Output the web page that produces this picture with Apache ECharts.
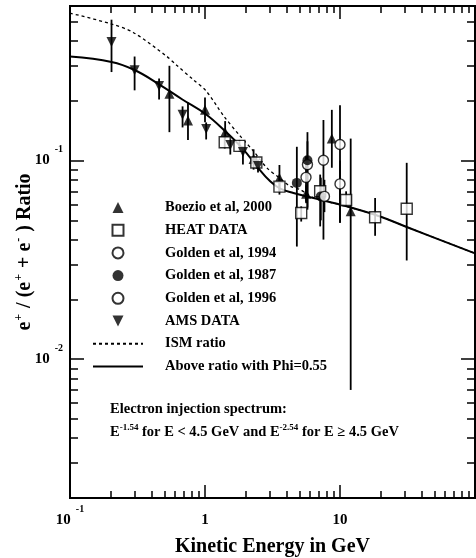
<!DOCTYPE html>
<html>
<head>
<meta charset="utf-8">
<script src="https://cdn.jsdelivr.net/npm/echarts@6/dist/echarts.min.js"></script>
<style>
    html, body { margin: 0; padding: 0; background: #fff; }
    #chart { width: 476px; height: 558px; }
</style>
</head>
<body>
<div id="chart"></div>
<script>
// 数据 (能量 GeV, 正电子比例, 误差下限, 误差上限)
const boezioE  = [0.545, 0.748, 1.0, 1.41, 2.29, 3.56, 5.61, 8.7, 12.0];
const boezioR  = [0.217, 0.159, 0.180, 0.139, 0.1018, 0.0818, 0.0681, 0.129, 0.0555];
const boezioLo = [0.139, 0.127, 0.156, 0.128, 0.090, 0.070, 0.061, 0.092, 0.0070];
const boezioHi = [0.300, 0.196, 0.208, 0.158, 0.114, 0.095, 0.075, 0.180, 0.129];

const heatE  = [1.40, 1.80, 2.40, 3.56, 5.16, 7.13, 11.1, 18.2, 31.2];
const heatR  = [0.1237, 0.1186, 0.0977, 0.0739, 0.0544, 0.070, 0.0633, 0.0518, 0.0572];
const heatLo = [0.115, 0.111, 0.091, 0.0674, 0.0493, 0.0466, 0.0588, 0.0418, 0.0314];
const heatHi = [0.133, 0.127, 0.105, 0.082, 0.0588, 0.085, 0.070, 0.0648, 0.0974];

const golden94E  = [5.74, 7.54, 10.0];
const golden94R  = [0.0954, 0.1003, 0.1205];
const golden94Lo = [0.058, 0.040, 0.0486];
const golden94Hi = [0.125, 0.160, 0.190];

const golden87E  = [4.79, 5.74, 7.21];
const golden87R  = [0.0772, 0.1003, 0.066];
const golden87Lo = [0.0369, 0.0566, 0.050];
const golden87Hi = [0.1173, 0.139, 0.082];

const golden96E  = [5.6, 7.67, 10.0];
const golden96R  = [0.0823, 0.066, 0.0763];
const golden96Lo = [0.062, 0.055, 0.0486];
const golden96Hi = [0.105, 0.080, 0.100];

const amsE  = [0.203, 0.301, 0.457, 0.682, 1.02, 1.54, 1.91, 2.47];
const amsR  = [0.395, 0.285, 0.237, 0.170, 0.144, 0.1198, 0.1104, 0.0938];
const amsLo = [0.279, 0.2257, 0.203, 0.1468, 0.1277, 0.1072, 0.0954, 0.087];
const amsHi = [0.512, 0.334, 0.259, 0.1874, 0.1556, 0.1277, 0.118, 0.1012];

// 理论曲线
const ismE = [0.1, 0.203, 0.294, 0.517, 0.613, 0.815, 1.02, 1.373, 1.824, 2.29, 2.874, 3.56, 4.28, 5.07, 6.36, 11.2, 19.8, 31.2, 100];
const ismR = [0.5526, 0.487, 0.4416, 0.336, 0.303, 0.256, 0.224, 0.168, 0.1327, 0.1114, 0.0919, 0.0818, 0.0742, 0.0714, 0.0650, 0.0588, 0.0523, 0.0463, 0.0341];
const phiE = [0.1, 0.203, 0.301, 0.457, 0.68, 1.02, 1.41, 1.93, 2.42, 3.04, 3.61, 4.52, 6.36, 11.2, 19.8, 31.2, 100];
const phiR = [0.334, 0.3137, 0.2857, 0.242, 0.203, 0.1707, 0.1406, 0.1136, 0.0936, 0.0786, 0.0722, 0.0687, 0.0648, 0.0588, 0.0523, 0.0463, 0.0341];

// 刻度
const xLabelValues = [0.1, 1, 10];
const xMajorTicks = [1, 10];
const xMinorTicks = [0.2, 0.3, 0.4, 0.5, 0.6, 0.7, 0.8, 0.9, 2, 3, 4, 5, 6, 7, 8, 9, 20, 30, 40, 50, 60, 70, 80, 90];
const yLabelValues = [0.01, 0.1];
const yMajorTicks = [0.01, 0.1];
const yMinorTicks = [0.003, 0.004, 0.005, 0.006, 0.007, 0.008, 0.009, 0.02, 0.03, 0.04, 0.05, 0.06, 0.07, 0.08, 0.09, 0.2, 0.3, 0.4, 0.5];

const serif = '"Liberation Serif", "DejaVu Serif", serif';
const chart = echarts.init(document.getElementById('chart'));

// 符号
const triUp = 'path://M0,10 L5,0 L10,10 Z';
const triDown = 'path://M0,0 L10,0 L5,10 Z';
const square = 'path://M0,0 L10,0 L10,10 L0,10 Z';

const richLabel = {
    b: { fontFamily: serif, fontWeight: 'bold', fontSize: 15, color: '#000', lineHeight: 32 },
    s: { fontFamily: serif, fontWeight: 'bold', fontSize: 10, color: '#000', lineHeight: 10, padding: [0, 0, 22, 5] }
};

function powLabel(v) {
    const e = Math.round(Math.log10(v));
    if (e === 0) return '{b|1}';
    if (e === 1) return '{b|10}';
    return '{b|10}{s|' + e + '}';
}

function pointsOf(xs, ys) {
    return xs.map((x, i) => [x, ys[i]]);
}

function barsOf(xs, lo, hi) {
    return xs.map((x, i) => [x, lo[i], hi[i]]);
}

// 误差棒
function renderErrorBar(params, api) {
    const x = api.value(0);
    const top = api.coord([x, api.value(2)]);
    const bottom = api.coord([x, api.value(1)]);
    return {
        type: 'line',
        shape: { x1: top[0], y1: top[1], x2: bottom[0], y2: bottom[1] },
        style: { stroke: '#000', lineWidth: 1.8 }
    };
}

function errorSeries(xs, lo, hi) {
    return {
        type: 'custom',
        renderItem: renderErrorBar,
        encode: { x: 0, y: [1, 2] },
        data: barsOf(xs, lo, hi),
        z: 1,
        silent: true
    };
}

function markerSeries(name, xs, ys, symbol, size, filled) {
    return {
        name: name,
        type: 'scatter',
        data: pointsOf(xs, ys),
        symbol: symbol,
        symbolSize: size,
        symbolKeepAspect: true,
        itemStyle: filled
            ? { color: '#000' }
            : { color: '#fff', borderColor: '#000', borderWidth: 1.4 },
        z: 3
    };
}

function xAxisDef(position, ticks, len, showLabel) {
    return {
        type: 'log',
        logBase: 10,
        min: 0.1,
        max: 100,
        position: position,
        gridIndex: 0,
        axisLine: { show: true, lineStyle: { color: '#000', width: 2 } },
        axisTick: { show: true, inside: true, length: len, customValues: ticks, lineStyle: { color: '#000', width: 1.5 } },
        axisLabel: showLabel
            ? { show: true, customValues: xLabelValues, formatter: powLabel, rich: richLabel, margin: 6 }
            : { show: false },
        splitLine: { show: false },
        minorTick: { show: false },
        name: showLabel ? 'Kinetic Energy in GeV' : '',
        nameLocation: 'middle',
        nameGap: 39,
        nameMoveOverlap: false,
        nameTextStyle: { fontFamily: serif, fontWeight: 'bold', fontSize: 20, color: '#000' }
    };
}

function yAxisDef(position, ticks, len, showLabel) {
    return {
        type: 'log',
        logBase: 10,
        min: 0.002,
        max: 0.6,
        position: position,
        gridIndex: 0,
        axisLine: { show: true, lineStyle: { color: '#000', width: 2 } },
        axisTick: { show: true, inside: true, length: len, customValues: ticks, lineStyle: { color: '#000', width: 1.5 } },
        axisLabel: showLabel
            ? { show: true, customValues: yLabelValues, formatter: powLabel, rich: richLabel, margin: 7 }
            : { show: false },
        splitLine: { show: false },
        minorTick: { show: false },
        name: showLabel ? '{n|e}{p|+}{n| / (e}{p|+}{n| + e}{p|-}{n| ) Ratio}' : '',
        nameLocation: 'middle',
        nameGap: 33,
        nameMoveOverlap: false,
        nameTextStyle: {
            rich: {
                n: { fontFamily: serif, fontWeight: 'bold', fontSize: 20, color: '#000', lineHeight: 24 },
                p: { fontFamily: serif, fontWeight: 'bold', fontSize: 12, color: '#000', lineHeight: 12, padding: [0, 1, 12, 1] }
            }
        }
    };
}

// 图例 (曲线图例不显示中间的符号)
const legendNames = ['Boezio et al, 2000', 'HEAT DATA', 'Golden et al, 1994', 'Golden et al, 1987',
    'Golden et al, 1996', 'AMS DATA', 'ISM ratio', 'Above ratio with Phi=0.55'];
const lineLegendNames = ['ISM ratio', 'Above ratio with Phi=0.55'];

const option = {
    animation: false,
    backgroundColor: '#fff',
    grid: { left: 70, right: 1, top: 6, bottom: 60, containLabel: false, outerBoundsMode: 'none' },
    xAxis: [
        xAxisDef('bottom', xMajorTicks, 13, true),
        xAxisDef('bottom', xMinorTicks, 7, false),
        xAxisDef('top', xMajorTicks, 13, false),
        xAxisDef('top', xMinorTicks, 7, false)
    ],
    yAxis: [
        yAxisDef('left', yMajorTicks, 14, true),
        yAxisDef('left', yMinorTicks, 8, false),
        yAxisDef('right', yMajorTicks, 14, false),
        yAxisDef('right', yMinorTicks, 8, false)
    ],
    legend: {
        data: legendNames.map(n => lineLegendNames.includes(n)
            ? { name: n, itemStyle: { opacity: 0 } }
            : { name: n }),
        orient: 'vertical',
        left: 87,
        top: 195,
        padding: 5,
        itemWidth: 50,
        itemHeight: 11,
        itemGap: 7.7,
        symbolKeepAspect: true,
        selectedMode: false,
        textStyle: { fontFamily: serif, fontWeight: 'bold', fontSize: 14.5, color: '#000', lineHeight: 14, padding: [0, 0, 0, 17] }
    },
    graphic: [
        {
            type: 'text',
            x: 110,
            y: 409,
            style: {
                text: 'Electron injection spectrum:',
                fontFamily: serif, fontWeight: 'bold', fontSize: 14.5, fill: '#000',
                verticalAlign: 'middle'
            }
        },
        {
            type: 'text',
            x: 110,
            y: 432,
            style: {
                text: '{t|E}{s|-1.54}{t| for E < 4.5 GeV and E}{s|-2.54}{t| for E \u2265 4.5 GeV}',
                verticalAlign: 'middle',
                rich: {
                    t: { fontFamily: serif, fontWeight: 'bold', fontSize: 14.5, fill: '#000', lineHeight: 18 },
                    s: { fontFamily: serif, fontWeight: 'bold', fontSize: 9, fill: '#000', lineHeight: 9, padding: [0, 0, 9, 0] }
                }
            }
        }
    ],
    series: [
        errorSeries(boezioE, boezioLo, boezioHi),
        errorSeries(heatE, heatLo, heatHi),
        errorSeries(golden94E, golden94Lo, golden94Hi),
        errorSeries(golden87E, golden87Lo, golden87Hi),
        errorSeries(golden96E, golden96Lo, golden96Hi),
        errorSeries(amsE, amsLo, amsHi),
        {
            name: 'ISM ratio',
            type: 'line',
            data: pointsOf(ismE, ismR),
            symbol: 'none',
            smooth: 0.3,
            lineStyle: { color: '#000', width: 1.3, type: [3, 3] },
            itemStyle: { color: '#000' },
            z: 2
        },
        {
            name: 'Above ratio with Phi=0.55',
            type: 'line',
            data: pointsOf(phiE, phiR),
            symbol: 'none',
            smooth: 0.4,
            lineStyle: { color: '#000', width: 2 },
            itemStyle: { color: '#000' },
            z: 2
        },
        markerSeries('Boezio et al, 2000', boezioE, boezioR, triUp, 10, true),
        markerSeries('HEAT DATA', heatE, heatR, square, 11, false),
        markerSeries('Golden et al, 1994', golden94E, golden94R, 'circle', 10, false),
        markerSeries('Golden et al, 1987', golden87E, golden87R, 'circle', 10, true),
        markerSeries('Golden et al, 1996', golden96E, golden96R, 'circle', 10, false),
        markerSeries('AMS DATA', amsE, amsR, triDown, 10, true)
    ]
};

chart.setOption(option);
</script>
</body>
</html>
